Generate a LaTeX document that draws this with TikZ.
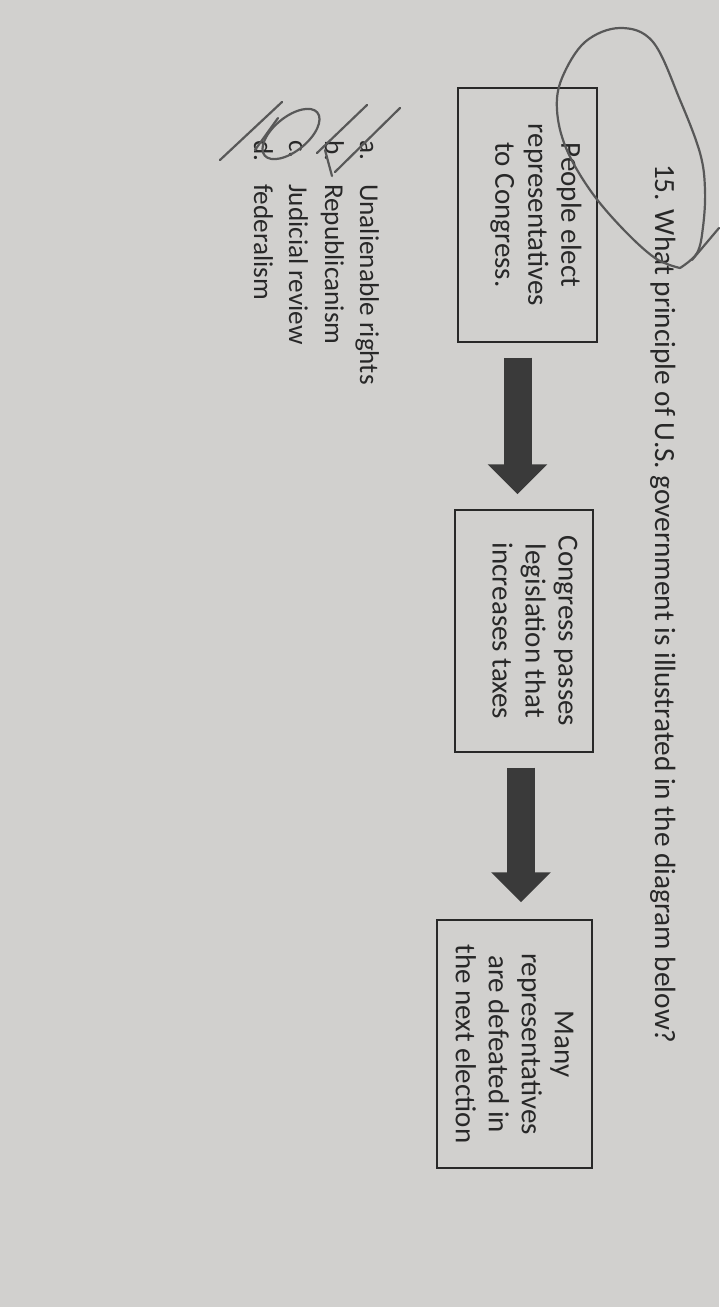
\documentclass[tikz,border=0pt]{standalone}
\usepackage{fontspec}
\setmainfont{Carlito}
\usetikzlibrary{arrows.meta}
\definecolor{paper}{RGB}{209,208,206}
\definecolor{ink}{RGB}{40,40,40}
\definecolor{arrowgray}{RGB}{58,58,58}
\definecolor{pencil}{RGB}{88,88,88}
\begin{document}
\begin{tikzpicture}[x=0.5pt, y=-0.5pt,
    every node/.style={font=\fontsize{14.5}{16.5}\selectfont, text=ink, rotate=-90},
    box/.style={draw=ink, line width=0.7pt, align=center, inner sep=0pt},
    fat/.style={draw=arrowgray, line width=14pt, -{Triangle[length=15pt,width=29pt]}, shorten <=7.5pt, shorten >=7.5pt},
    pen/.style={draw=pencil, line width=1.1pt, line cap=round, line join=round}]
        \fill[paper] (0,0) rectangle (719,1307);

        \node[anchor=base west, font=\fontsize{14.65}{17}\selectfont] (q) at (655,157) {15. What principle of U.S. government is illustrated in the diagram below?};

        \node[box, text depth=11pt, minimum width=127pt, minimum height=69.5pt] (b1) at (527.5,215) {People elect\\representatives\\to Congress.};
        \node[box, text depth=11pt, minimum width=121pt, minimum height=69pt] (b2) at (524,631) {Congress passes\\legislation that\\increases taxes};
        \node[box, minimum width=124pt, minimum height=77.5pt] (b3) at (514.5,1044) {Many\\representatives\\are defeated in\\the next election};

        \draw[fat] ([xshift=-5pt]b1.east) -- ([xshift=-5pt]b1.east |- b2.west);
        \draw[fat, shorten >=8.5pt] ([xshift=-1.5pt]b2.east) -- ([xshift=-1.5pt]b2.east |- b3.west);

        \foreach \l/\t/\x in {a/Unalienable rights/360, b/Republicanism/325, c/Judicial review/289, d/federalism/254} {
                \node[anchor=base west, font=\fontsize{13.6}{16}\selectfont] (l\l) at (\x,133) {\l.};
                \node[anchor=base west, font=\fontsize{13.6}{16}\selectfont] (o\l) at (\x,177) {\t};
            }

        % pencil marks
        \draw[pen] plot[smooth, tension=0.6] coordinates {(680,268) (697,253) (703,227) (705,190) (700,153) (680,100) (653,42) (620,28) (585,42) (562,78) (557,110) (566,148) (590,190) (622,228) (655,258) (680,268)};
        \draw[pen] (692,260) -- (719,228);
        \draw[pen] (335,172) -- (400,108);
        \draw[pen] (317,153) -- (367,105);
        \draw[pen] (325,150) -- (332,176);
        \draw[pen] (291,134) ellipse [x radius=34, y radius=17, rotate=39];
        \draw[pen] (220,160) -- (282,102);
        \draw[pen] (255,150) -- (278,118);
    \end{tikzpicture}
\end{document}
